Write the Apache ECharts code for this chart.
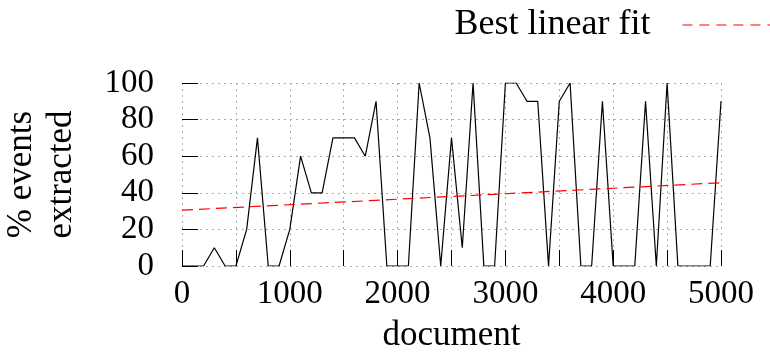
<!DOCTYPE html>
<html>
<head>
<meta charset="utf-8">
<script src="https://cdn.jsdelivr.net/npm/echarts@6/dist/echarts.min.js"></script>
<style>html,body{margin:0;padding:0;background:#fff}#c{width:770px;height:353px}</style>
</head>
<body>
<div id="c"></div>
<script>
var xValues = [0,100,200,300,400,500,600,700,800,900,1000,1100,1200,1300,1400,1500,1600,1700,1800,1900,2000,2100,2200,2300,2400,2500,2600,2700,2800,2900,3000,3100,3200,3300,3400,3500,3600,3700,3800,3900,4000,4100,4200,4300,4400,4500,4600,4700,4800,4900,5000];
var pctExtracted = [0,0,0,10,0,0,20,70,0,0,20,60,40,40,70,70,70,60,90,0,0,0,100,70,0,70,10,100,0,0,100,100,90,90,0,90,100,0,0,90,0,0,0,90,0,100,0,0,0,0,90];
var fitX = [0,5000];
var fitY = [30.5,45.5];
var xTicks = [0,1000,2000,3000,4000,5000];
var yTicks = [0,20,40,60,80,100];

var serif = '"Liberation Serif", "Times New Roman", serif';
var chart = echarts.init(document.getElementById('c'));
chart.setOption({
  animation: false,
  backgroundColor: '#fff',
  grid: {left: 182, right: 49, top: 83, bottom: 87, containLabel: false, outerBoundsMode: 'none'},
  legend: {
    right: -26, top: 2,
    align: 'right',
    itemWidth: 108, itemHeight: 14,
    data: ['Best linear fit'],
    formatter: function (n) { return n + '   '; },
    textStyle: {fontFamily: serif, fontSize: 36, color: '#000'},
    itemStyle: {color: 'rgba(0,0,0,0)', borderWidth: 0, opacity: 0},
    lineStyle: {type: [10, 7], width: 1.2, color: '#ff0000', opacity: 1}
  },
  xAxis: {
    type: 'value', min: 0, max: 5000, interval: 500,
    name: 'document', nameLocation: 'middle', nameGap: 52,
    nameTextStyle: {fontFamily: serif, fontSize: 35, color: '#000'},
    axisLine: {show: false},
    axisTick: {show: true, inside: true, length: 16, lineStyle: {color: '#000', width: 1}},
    axisLabel: {
      margin: 12, fontFamily: serif, fontSize: 33, color: '#000',
      formatter: function (v) { return xTicks.indexOf(v) >= 0 ? String(v) : ''; }
    },
    splitLine: {show: true, lineStyle: {type: [2, 4], color: '#aaaaaa', width: 1}}
  },
  yAxis: {
    type: 'value', min: 0, max: 100, interval: 20,
    name: '% events\nextracted', nameLocation: 'middle', nameGap: 100,
    nameTextStyle: {fontFamily: serif, fontSize: 35, color: '#000', lineHeight: 40},
    axisLine: {show: false},
    axisTick: {show: true, inside: true, length: 16, lineStyle: {color: '#000', width: 1}},
    axisLabel: {
      margin: 28, fontFamily: serif, fontSize: 33, color: '#000',
      formatter: function (v) { return yTicks.indexOf(v) >= 0 ? String(v) : ''; }
    },
    splitLine: {show: true, lineStyle: {type: [2, 4], color: '#aaaaaa', width: 1}}
  },
  series: [
    {
      name: 'data', type: 'line', symbol: 'none',
      data: xValues.map(function (x, i) { return [x, pctExtracted[i]]; }),
      lineStyle: {color: '#000', width: 1.2},
      z: 3
    },
    {
      name: 'Best linear fit', type: 'line', symbol: 'none',
      data: fitX.map(function (x, i) { return [x, fitY[i]]; }),
      lineStyle: {color: '#ff0000', width: 1.2, type: [11, 6]},
      itemStyle: {color: '#ff0000'},
      z: 4
    }
  ]
});
</script>
</body>
</html>
